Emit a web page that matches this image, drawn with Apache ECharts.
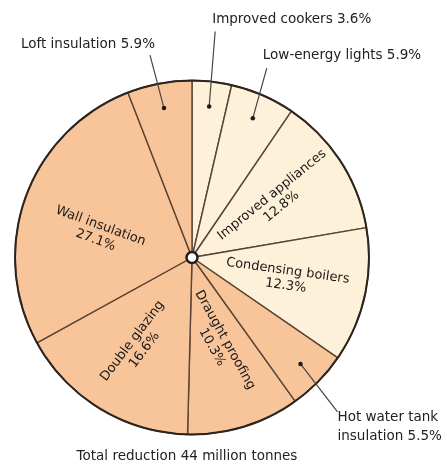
<!DOCTYPE html>
<html><head><meta charset="utf-8">
<script src="https://cdn.jsdelivr.net/npm/echarts@6/dist/echarts.min.js"></script>
<style>html,body{margin:0;padding:0;background:#fff}#c{width:445px;height:466px}</style>
</head><body><div id="c"></div>
<script>
// Data, clockwise from 12 o'clock
const categories = ['Improved cookers','Low-energy lights','Improved appliances','Condensing boilers','Hot water tank insulation','Draught proofing','Double glazing','Wall insulation','Loft insulation'];
const values = [3.6, 5.9, 12.8, 12.3, 5.5, 10.3, 16.6, 27.1, 5.9];
const groups = ['light','light','light','light','dark','dark','dark','dark','dark'];
const outsideLabelled = ['Improved cookers','Low-energy lights','Hot water tank insulation','Loft insulation'];
const outsideText = {'Hot water tank insulation':'Hot water tank\ninsulation'};
const titleText = 'Total reduction 44 million tonnes';

// ---- layout / style (not data) ----
const CX = 192, CY = 257.5, R = 177, RD = 152;
const FONT = 'DejaVu Sans';
const colors = {light:'#fdf1da', dark:'#f8c59a'};
// inside labels: [radius from centre, rotation, angular nudge in %]
const insideCfg = {'Improved appliances':[102,39,-0.3],'Condensing boilers':[97,-8,0],'Draught proofing':[90,-61,0],'Double glazing':[103,53,0],'Wall insulation':[97,-20,-1.5]};
// outside labels: leader vector from dot, text offset from leader end, align, verticalAlign
const outerCfg = {
  'Loft insulation':        {v:[-14,-53], t:[5,-1],  align:'right', va:'bottom'},
  'Improved cookers':       {v:[6,-75],   t:[-3,-2], align:'left',  va:'bottom'},
  'Low-energy lights':      {v:[14,-50],  t:[-4,-3], align:'left',  va:'bottom'},
  'Hot water tank insulation':{v:[37,48], t:[0,-4],  align:'left',  va:'top'}
};

const total = values.reduce((a,b)=>a+b,0);
const mids = []; let acc = 0;
values.forEach(v=>{ mids.push((acc + v/2)/total*100); acc += v; });

const mainData = categories.map((n,i)=>({name:n, value:values[i], itemStyle:{color:colors[groups[i]]}}));
const labelData = categories.map((n,i)=>{
  const out = outsideLabelled.indexOf(n) >= 0;
  return {name:n, value:values[i], label:{show:out}, labelLine:{show:out}};
});
const dotData = categories.map((n,i)=>outsideLabelled.indexOf(n)>=0 ? [RD, mids[i]] : null).filter(d=>d);
const insideData = categories.map((n,i)=>{
  const c = insideCfg[n]; if (!c) return null;
  return {name:n, value:[c[0], mids[i]+c[2], values[i]], label:{rotate:c[1]}};
}).filter(d=>d);

const chart = echarts.init(document.getElementById('c'), null, {renderer:'canvas'});
chart.setOption({
  animation:false,
  backgroundColor:'#ffffff',
  title:{text:titleText, left:182, top:444, textAlign:'center',
    textStyle:{fontFamily:FONT, fontSize:13.5, fontWeight:'normal', color:'#222'}},
  polar:{center:[CX,CY], radius:R},
  angleAxis:{type:'value', min:0, max:100, startAngle:90, clockwise:true, show:false},
  radiusAxis:{type:'value', min:0, max:R, show:false},
  series:[
    {
      type:'pie', center:[CX,CY], radius:[0,R], startAngle:90, clockwise:true,
      silent:true, z:1,
      itemStyle:{borderColor:'#5a4434', borderWidth:1.4},
      label:{show:false}, labelLine:{show:false},
      emphasis:{disabled:true},
      data:mainData
    },
    {
      type:'pie', center:[CX,CY], radius:[R-1,R+1], silent:true, z:2,
      itemStyle:{color:'#2c241e'}, label:{show:false}, labelLine:{show:false},
      emphasis:{disabled:true},
      data:[{name:'outline', value:1}]
    },
    {
      type:'pie', center:[CX,CY], radius:[0,RD], startAngle:90, clockwise:true, silent:true, z:3,
      itemStyle:{color:'rgba(0,0,0,0)', borderWidth:0},
      label:{position:'outside', fontFamily:FONT, fontSize:13.5, color:'#222', lineHeight:19,
        formatter:p=>(outsideText[p.name]||p.name)+' '+p.value.toFixed(1)+'%'},
      labelLine:{lineStyle:{color:'#4a4440', width:1.2}, smooth:false, length:20, length2:0},
      avoidLabelOverlap:false,
      emphasis:{disabled:true},
      labelLayout:function(p){
        const cfg = outerCfg[categories[p.dataIndex]];
        if (!cfg || !p.labelLinePoints) return {};
        const p0 = p.labelLinePoints[0];
        const end = [p0[0]+cfg.v[0], p0[1]+cfg.v[1]];
        return {x:end[0]+cfg.t[0], y:end[1]+cfg.t[1], align:cfg.align, verticalAlign:cfg.va,
          labelLinePoints:[p0, end, end]};
      },
      data:labelData
    },
    {
      type:'scatter', coordinateSystem:'polar', symbol:'circle', symbolSize:4.5, silent:true, z:4,
      itemStyle:{color:'#1e1a18', opacity:1},
      data:dotData
    },
    {
      type:'scatter', coordinateSystem:'polar', symbolSize:1, silent:true, z:6,
      itemStyle:{color:'rgba(0,0,0,0)', opacity:1},
      label:{show:true, position:'inside', fontFamily:FONT, fontSize:13, color:'#1a1816', lineHeight:15, align:'center',
        textBorderWidth:0, opacity:1,
        formatter:p=>p.name+'\n'+p.value[2].toFixed(1)+'%'},
      data:insideData
    },
    {
      type:'pie', center:[CX,CY], radius:[0,5.5], silent:true, z:5,
      itemStyle:{color:'#ffffff', borderColor:'#1f1f1f', borderWidth:2.5},
      label:{show:false}, labelLine:{show:false}, emphasis:{disabled:true},
      data:[{name:'hub', value:1}]
    }
  ]
});
</script></body></html>
